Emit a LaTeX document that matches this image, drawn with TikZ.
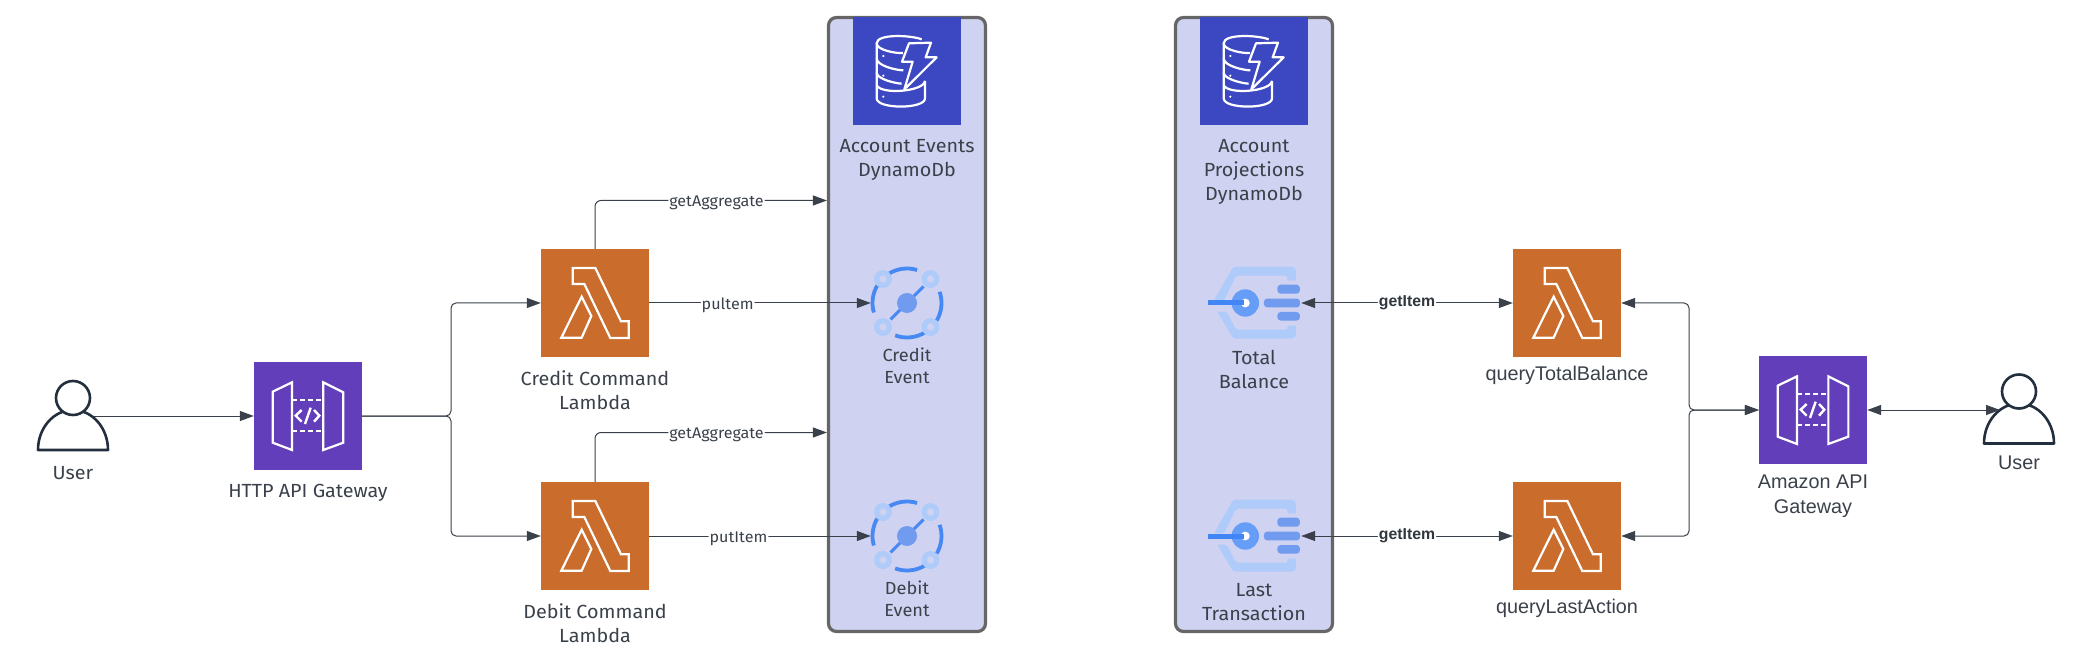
\documentclass[tikz,border=0pt]{standalone}
\usepackage{fontspec}
\setmainfont[FakeStretch=1.04]{Fira Sans}
\newfontfamily\rfont{Liberation Sans}
\usetikzlibrary{arrows.meta}
\definecolor{linec}{HTML}{3A414A}
\definecolor{txtc}{HTML}{3A414A}
\definecolor{panelc}{HTML}{CFD2F0}
\definecolor{panelb}{HTML}{666666}
\definecolor{lamc}{HTML}{C96C2C}
\definecolor{gwc}{HTML}{633EBB}
\definecolor{dync}{HTML}{3C48C1}
\definecolor{usrc}{HTML}{232F3E}
\definecolor{gcl}{HTML}{AECBFA}
\definecolor{gcm}{HTML}{669DF6}
\definecolor{gcd}{HTML}{4285F4}
\definecolor{gcp}{HTML}{719BEE}
\tikzset{
  x=1pt,y=-1pt,
  conn/.style={draw=linec,line width=1pt,rounded corners=6pt},
  tip/.style={-{Triangle[length=14pt,width=10pt]}},
  tips/.style={{Triangle[length=14pt,width=10pt]}-{Triangle[length=14pt,width=10pt]}},
  backtip/.style={{Triangle[length=14pt,width=10pt]}-},
  panel/.style={draw=panelb,fill=panelc,line width=3.2pt,rounded corners=8pt,minimum width=157pt,minimum height=614pt,inner sep=0pt},
  iconbox/.style={minimum size=108pt,inner sep=0pt},
  lamb/.style={iconbox,fill=lamc},
  gwb/.style={iconbox,fill=gwc},
  dynb/.style={iconbox,fill=dync},
  small/.style={inner sep=0pt},
  lab/.style={text=txtc,align=center,font=\fontsize{19}{24}\selectfont,inner sep=0pt},
  sublab/.style={text=txtc,align=center,font=\fontsize{17.5}{22}\selectfont,inner sep=0pt},
  rlab/.style={text=txtc,align=center,font=\rfont\fontsize{19.8}{24.5}\selectfont,inner sep=0pt},
  clab/.style={text=txtc,fill=white,inner xsep=1pt,inner ysep=1pt,font=\fontsize{15.5}{16}\selectfont},
  blab/.style={text=txtc!85!black,fill=white,inner xsep=1pt,inner ysep=1pt,font=\rfont\bfseries\fontsize{15.8}{16}\selectfont},
  lambdaglyph/.pic={
    \begin{scope}[x=.3333pt,y=-.3333pt,draw=white,line width=2.2pt,miter limit=10]
      \draw (-67,-105)--(1,-105)--(78,55)--(101,55)--(101,105)--(46,105)--(-32,-57)--(-67,-57)--cycle;
      \draw (-40,-19)--(-11,39)--(-40,104)--(-101,104)--cycle;
    \end{scope}},
  gwglyph/.pic={
    \begin{scope}[x=.3333pt,y=-.3333pt,draw=white,line width=2.2pt]
      \draw (-106,-73)--(-48,-101)--(-48,102)--(-106,80)--cycle;
      \draw (46,-101)--(106,-71)--(106,80)--(46,102)--cycle;
      \draw[dash pattern=on 5pt off 3pt] (-48,-47)--(46,-47);
      \draw[dash pattern=on 5pt off 3pt] (-48,45)--(46,45);
      \draw[line width=2.4pt] (-19,-18)--(-37,-1)--(-19,17);
      \draw[line width=2.4pt] (18,-18)--(34,-1)--(18,17);
      \draw[line width=2.4pt] (8,-25)--(-9,24);
    \end{scope}},
  dynglyph/.pic={
    \begin{scope}[x=.3333pt,y=-.3333pt,draw=white,line width=2.2pt,line join=round]
      \draw (44,-95) .. controls (10,-108) and (-91,-112) .. (-91,-83)
            .. controls (-91,-62) and (-30,-52) .. (-12,-54);
      \draw (-91,-83)--(-91,-38) .. controls (-91,-15) and (-30,-2) .. (-11,-2);
      \draw (-91,-38)--(-91,5) .. controls (-91,25) and (-30,38) .. (-16,38);
      \draw (-91,5)--(-91,82) .. controls (-91,115) and (54,115) .. (54,82)--(54,30);
      \draw (-91,42) .. controls (-80,72) and (50,62) .. (54,30);
      \draw (6,-83)--(72,-85)--(56,-41)--(89,-41)--(-8,55)--(17,-28)--(-15,-28)--cycle;
      \fill[white] (-71,-45) circle[radius=1.2pt] (-71,14) circle[radius=1.2pt] (-71,77) circle[radius=1.2pt];
    \end{scope}},
  eventglyph/.pic={
    \draw[gcd!85!gcm,line width=3.8pt] (121:34.5pt) arc[start angle=121,end angle=73,radius=34.5pt];
    \draw[gcd!85!gcm,line width=3.8pt] (19:34.5pt) arc[start angle=19,end angle=-31,radius=34.5pt];
    \draw[gcd!85!gcm,line width=3.8pt] (-110:34.5pt) arc[start angle=-110,end angle=-58,radius=34.5pt];
    \draw[gcd!85!gcm,line width=3.8pt] (149:34.5pt) arc[start angle=149,end angle=196,radius=34.5pt];
    \draw[gcd!85!gcm,line width=3pt] (16.5,-16.5)--(-16.5,16.5);
    \fill[gcp] (0,0) circle[radius=10pt];
    \foreach \p in {(-24,-24),(23.5,-24),(-24,24),(23.5,24)}
      \draw[gcl,line width=5.2pt] \p circle[radius=6.3pt];
  },
  bigglyph/.pic={
    \begin{scope}[x=.3333pt,y=-.3333pt]
      \fill[gcl,rounded corners=2pt] (-36,-109)--(144,-109)--(152,-100)--(152,-67)--(126,-67)--(126,-82)--(-28,-82)--(-64,-8)--(-94,-8)--cycle;
      \fill[gcl,rounded corners=2pt] (-84,26)--(-56,26)--(-28,80)--(126,80)--(126,68)--(152,68)--(152,100)--(144,107)--(-36,107)--cycle;
      \fill[gcm] (0,0) circle[radius=13.7pt];
      \fill[white] (0,0) circle[radius=4.4pt];
      \fill[gcd] (-112,-7.5) rectangle (-4,7.5);
      \fill[gcp,rounded corners=3pt] (56,-13) rectangle (164,13);
      \fill[gcp,rounded corners=3.5pt] (96,-55) rectangle (164,-28);
      \fill[gcp,rounded corners=3.5pt] (96,27) rectangle (164,53);
    \end{scope}},
  userglyph/.pic={
    \begin{scope}[draw=usrc,line width=2.6pt]
      \draw[fill=white,line join=round] (-35,35) arc[start angle=180,end angle=0,x radius=35pt,y radius=40pt]--cycle;
      \draw[fill=white] (0,-17) circle[radius=17pt];
    \end{scope}},
}
\begin{document}
\begin{tikzpicture}
\useasboundingbox (0,0) rectangle (2078,652);
% panels
\node[panel] (p1) at (907,324.5) {};
\node[panel] (p2) at (1254,324.5) {};
% icon boxes
\node[lamb] (creditL) at (595,303) {};
\node[lamb] (debitL) at (595,536) {};
\node[lamb] (queryT) at (1567,303) {};
\node[lamb] (queryL) at (1567,536) {};
\node[gwb] (gwL) at (308,416) {};
\node[gwb] (gwR) at (1813,410) {};
\node[dynb] (dynA) at (907,71) {};
\node[dynb] (dynB) at (1254,71) {};
% icon anchors
\node[small,minimum size=72pt] (evC) at (907,303) {};
\node[small,minimum size=72pt] (evD) at (907,536) {};
\node[small,minimum width=93pt,minimum height=72pt] (bigT) at (1254.5,303) {};
\node[small,minimum width=93pt,minimum height=72pt] (bigL) at (1254.5,536) {};
\node[small,minimum width=70pt,minimum height=70pt] (userL) at (73,415) {};
\node[small,minimum width=70pt,minimum height=70pt] (userR) at (2019,408.5) {};
\coordinate (jL) at (451,416);
\coordinate (jR) at (1689,410);
\coordinate (upC) at (595,200.5);
\coordinate (upD) at (595,432.5);
\coordinate (userPort) at (2000,410);
% connectors
\draw[conn,tip] (userL.center|-gwL.west) -- (gwL.west);
\draw[conn,tip,rounded corners=5pt] (gwL.east) -- (jL) -- (jL|-creditL.west) -- (creditL.west);
\draw[conn,tip,rounded corners=5pt] (gwL.east) -- (jL) -- (jL|-debitL.west) -- (debitL.west);
\draw[conn,tip] (creditL.north) -- (upC) -- (upC-|p1.west) node[pos=.524,clab,yshift=-2.5pt] {getAggregate};
\draw[conn,tip] (debitL.north) -- (upD) -- (upD-|p1.west) node[pos=.524,clab,yshift=-2.5pt] {getAggregate};
\draw[conn,tip] (creditL.east) -- (evC.west) node[pos=.354,clab,yshift=-2.5pt] {pultem};
\draw[conn,tip] (debitL.east) -- (evD.west) node[pos=.403,clab,yshift=-2.5pt] {putItem};
\draw[conn,tips] (bigT.east) -- (queryT.west) node[pos=.5,blab] {getItem};
\draw[conn,tips] (bigL.east) -- (queryL.west) node[pos=.5,blab] {getItem};
\draw[conn,tips,rounded corners=5pt] (queryT.east) -- (jR|-queryT.east) -- (jR) -- (gwR.west);
\draw[conn,tips,rounded corners=5pt] (queryL.east) -- (jR|-queryL.east) -- (jR) -- (gwR.west);
% glyphs
\pic at (creditL.center) {lambdaglyph};
\pic at (debitL.center) {lambdaglyph};
\pic at (queryT.center) {lambdaglyph};
\pic at (queryL.center) {lambdaglyph};
\pic at (gwL.center) {gwglyph};
\pic at (gwR.center) {gwglyph};
\pic at (dynA.center) {dynglyph};
\pic at (dynB.center) {dynglyph};
\pic at (evC.center) {eventglyph};
\pic at (evD.center) {eventglyph};
\pic at ([xshift=-9.2pt]bigT.center) {bigglyph};
\pic at ([xshift=-9.2pt]bigL.center) {bigglyph};
\pic at (userL.center) {userglyph};
\pic at (userR.center) {userglyph};
\draw[conn,tips] (gwR.east) -- (userPort);
% labels
\node[lab] (t1) at (73,473) {User};
\node[lab] (t2) at (308,493) {HTTP API Gateway};
\node[lab] (t3) at (595,390) {Credit Command\\Lambda};
\node[lab] (t4) at (595,623) {Debit Command\\Lambda};
\node[lab] (t5) at (907,160) {Account Events\\DynamoDb};
\node[lab] (t6) at (1254,172) {Account\\Projections\\DynamoDb};
\node[sublab] (t7) at (907,366) {Credit\\Event};
\node[sublab] (t8) at (907,599) {Debit\\Event};
\node[lab] (t9) at (1254,369) {Total\\Balance};
\node[lab] (t10) at (1254,602) {Last\\Transaction};
\node[rlab] (t11) at (1567,375) {queryTotalBalance};
\node[rlab] (t12) at (1567,608) {queryLastAction};
\node[rlab] (t13) at (1813,496) {Amazon API\\Gateway};
\node[rlab] (t14) at (2019,463) {User};
\end{tikzpicture}
\end{document}
